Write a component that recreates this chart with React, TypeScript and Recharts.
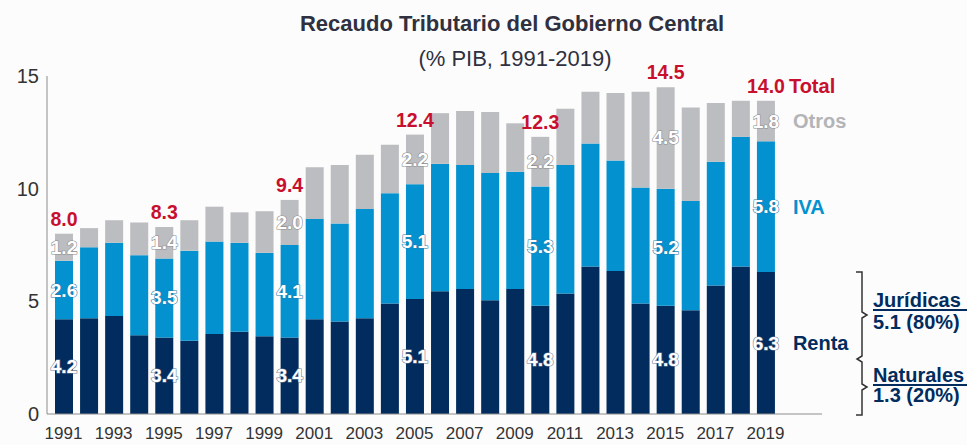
import { Bar, BarChart, LabelList, XAxis, YAxis } from "recharts";

const years = [
  1991, 1992, 1993, 1994, 1995, 1996, 1997, 1998, 1999, 2000,
  2001, 2002, 2003, 2004, 2005, 2006, 2007, 2008, 2009, 2010,
  2011, 2012, 2013, 2014, 2015, 2016, 2017, 2018, 2019,
];

const renta = [
  4.2, 4.25, 4.35, 3.5, 3.4, 3.25, 3.55, 3.65, 3.45, 3.4,
  4.2, 4.1, 4.25, 4.9, 5.1, 5.45, 5.55, 5.05, 5.55, 4.8,
  5.35, 6.55, 6.35, 4.9, 4.8, 4.6, 5.7, 6.55, 6.3,
];

const iva = [
  2.6, 3.15, 3.25, 3.55, 3.5, 4.0, 4.1, 3.95, 3.7, 4.1,
  4.45, 4.35, 4.85, 4.9, 5.1, 5.65, 5.5, 5.65, 5.2, 5.3,
  5.7, 5.45, 4.9, 5.15, 5.2, 4.85, 5.5, 5.75, 5.8,
];

const otros = [
  1.2, 0.85, 1.0, 1.45, 1.4, 1.35, 1.55, 1.35, 1.85, 2.0,
  2.3, 2.6, 2.4, 2.15, 2.2, 2.25, 2.4, 2.7, 2.15, 2.2,
  2.5, 2.3, 3.0, 4.25, 4.5, 4.15, 2.6, 1.6, 1.8,
];

// years that carry value labels, and the reported totals for them
const labelYears = [1991, 1995, 2000, 2005, 2010, 2015, 2019];
const totalLabels = [8.0, 8.3, 9.4, 12.4, 12.3, 14.5, 14.0];

const NAVY = "#012c5d";
const BLUE = "#0392cf";
const GRAY = "#bcbdc0";
const RED = "#c8102e";
const FONT = "'Liberation Sans', Arial, sans-serif";

const data = years.map((y, i) => ({
  year: String(y),
  renta: renta[i],
  iva: iva[i],
  otros: otros[i],
}));

const last = years.length - 1;

function segmentLabel(values: number[], name: string, nameColor: string, outline: string, withTotal = false) {
  return (props: any) => {
    const { x, y, width, height, index } = props;
    const year = years[index];
    const k = labelYears.indexOf(year);
    if (k < 0) return null;
    const cx = Number(x) + Number(width) / 2;
    const cy = Number(y) + Number(height) / 2;
    return (
      <g>
        <text
          x={cx}
          y={cy}
          textAnchor="middle"
          dominantBaseline="central"
          fill="#fff"
          stroke={outline}
          strokeWidth={1.2}
          paintOrder="stroke"
          fontSize={19}
          fontWeight="bold"
          fontFamily={FONT}
        >
          {values[index].toFixed(1)}
        </text>
        {index === last && (
          <text
            x={Number(x) + Number(width) + 18}
            y={cy}
            dominantBaseline="central"
            fill={nameColor}
            fontSize={20}
            fontWeight="bold"
            fontFamily={FONT}
          >
            {name}
          </text>
        )}
        {withTotal && (
          <text
            x={cx}
            y={Number(y) - 8}
            textAnchor="middle"
            fill={RED}
            fontSize={19.5}
            fontWeight="bold"
            fontFamily={FONT}
          >
            {totalLabels[k].toFixed(1)}
          </text>
        )}
        {withTotal && index === last && (
          <text
            x={Number(x) + Number(width) + 14}
            y={Number(y) - 8}
            fill={RED}
            fontSize={20}
            fontWeight="bold"
            fontFamily={FONT}
          >
            Total
          </text>
        )}
      </g>
    );
  };
}

export default function App() {
  return (
    <div
      style={{
        position: "fixed",
        top: 0,
        left: 0,
        width: 967,
        height: 445,
        background: "#fcfcfc",
        fontFamily: FONT,
        overflow: "hidden",
      }}
    >
      <div
        style={{
          position: "absolute",
          left: 0,
          width: 1024,
          top: 11,
          textAlign: "center",
          fontSize: 22,
          fontWeight: "bold",
          color: "#2f3040",
        }}
      >
        Recaudo Tributario del Gobierno Central
      </div>
      <div
        style={{
          position: "absolute",
          left: 0,
          width: 1030,
          top: 46,
          textAlign: "center",
          fontSize: 22,
          color: "#2f3040",
        }}
      >
        (% PIB, 1991-2019)
      </div>

      <BarChart
        width={967}
        height={445}
        data={data}
        margin={{ top: 76, right: 145, bottom: 0, left: 0 }}
        barSize={18}
        style={{ position: "absolute", top: 0, left: 0 }}
      >
        <XAxis
          dataKey="year"
          interval={1}
          tickLine={false}
          tickMargin={7}
          height={31}
          padding={{ left: 4, right: 44 }}
          axisLine={{ stroke: "#8c8c8c" }}
          tick={{ fill: "#333", fontSize: 17, fontFamily: FONT }}
        />
        <YAxis
          width={47}
          domain={[0, 15]}
          ticks={[0, 5, 10, 15]}
          tickLine={false}
          axisLine={{ stroke: "#8c8c8c" }}
          tick={{ fill: "#333", fontSize: 20, fontFamily: FONT }}
        />
        <Bar dataKey="renta" stackId="a" fill={NAVY} isAnimationActive={false}>
          <LabelList content={segmentLabel(renta, "Renta", NAVY, "#6f7f98")} />
        </Bar>
        <Bar dataKey="iva" stackId="a" fill={BLUE} isAnimationActive={false}>
          <LabelList content={segmentLabel(iva, "IVA", BLUE, "#2a7fb0")} />
        </Bar>
        <Bar dataKey="otros" stackId="a" fill={GRAY} isAnimationActive={false}>
          <LabelList content={segmentLabel(otros, "Otros", "#b3b4b7", "#8d8e91", true)} />
        </Bar>
      </BarChart>

      <svg
        width={967}
        height={445}
        style={{ position: "absolute", top: 0, left: 0, pointerEvents: "none" }}
      >
        <path
          d="M856,272 L862,272 L862,312 L867,315 L862,318 L862,356 L857,359 L862,362 L862,384 L867,387 L862,390 L862,415 L856,415"
          fill="none"
          stroke="#333"
          strokeWidth={1.5}
        />
        <g fontFamily={FONT} fontSize={20} fontWeight="bold" fill={NAVY}>
          <text x={873} y={307}>Jurídicas</text>
          <line x1={873} x2={967} y1={310} y2={310} stroke={NAVY} strokeWidth={1.8} />
          <text x={873} y={329}>5.1 (80%)</text>
          <text x={873} y={382}>Naturales</text>
          <line x1={873} x2={967} y1={385} y2={385} stroke={NAVY} strokeWidth={1.8} />
          <text x={873} y={402}>1.3 (20%)</text>
        </g>
      </svg>
    </div>
  );
}
